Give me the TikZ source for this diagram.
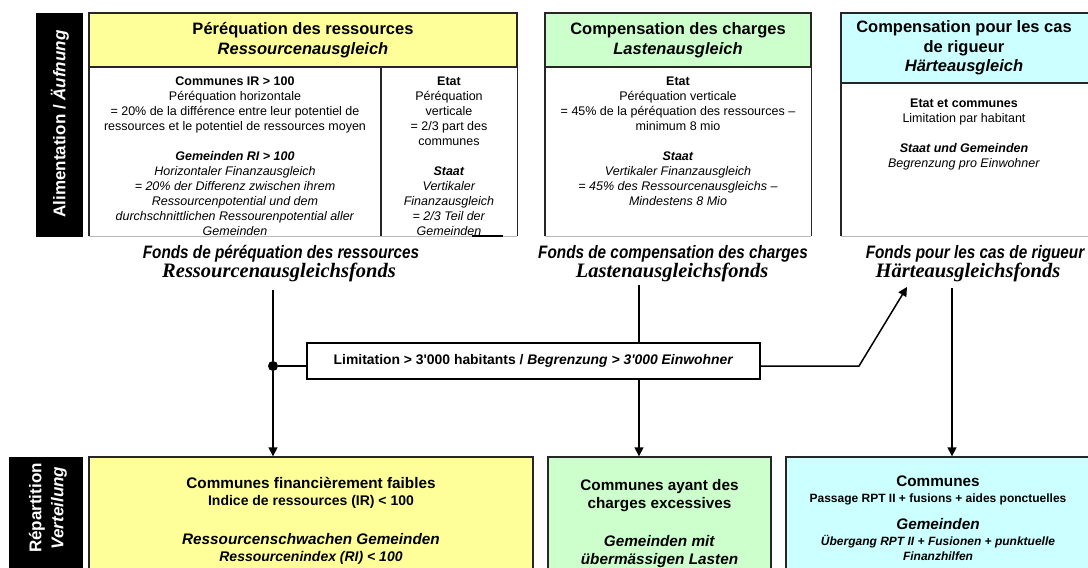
\documentclass[tikz,border=0pt]{standalone}
\usepackage{fontspec}
\setmainfont{Liberation Sans}
\newfontfamily\narrowfont[FakeStretch=0.85]{Liberation Sans}
\newfontfamily\serifbi{Liberation Serif}
\usetikzlibrary{arrows.meta,calc}
\definecolor{yel}{HTML}{FFFF99}
\definecolor{gre}{HTML}{CCFFCC}
\definecolor{cya}{HTML}{CCFFFF}
\definecolor{bordc}{HTML}{262626}
\definecolor{lgray}{HTML}{BBBBBB}
\newcommand{\tstrut}{\rule{0pt}{1em}}
\begin{document}
\begin{tikzpicture}[x=1pt,y=-1pt,
  bord/.style={draw=bordc, line width=1.4pt},
  hdr/.style={bord, inner sep=0pt, align=center, font=\fontsize{16.5}{19.5}\selectfont\bfseries},
  plainbox/.style={inner sep=0pt, draw=none},
  bodytxt/.style={inner sep=0pt, align=center, anchor=north, font=\fontsize{12.5}{15}\selectfont},
  fondsA/.style={inner sep=0pt, anchor=base, font=\narrowfont\fontsize{18}{20}\selectfont\bfseries\itshape},
  fondsB/.style={inner sep=0pt, anchor=base, font=\serifbi\fontsize{20.5}{22}\selectfont\bfseries\itshape},
  bigl/.style={inner sep=0pt, anchor=base, font=\fontsize{15.3}{18}\selectfont\bfseries},
  midl/.style={inner sep=0pt, anchor=base, font=\fontsize{14}{16}\selectfont\bfseries},
  smll/.style={inner sep=0pt, anchor=base, font=\fontsize{12}{14}\selectfont\bfseries},
  sidebar/.style={fill=black, draw=none, inner sep=0pt},
  sidetxt/.style={text=white, rotate=90, inner sep=0pt, align=center, font=\fontsize{17}{22}\selectfont\bfseries},
  conn/.style={draw=black, line width=1.5pt},
  arr/.style={conn, -{Triangle[length=9pt,width=9pt]}},
  graybot/.style={draw=lgray, line width=1pt}
]
\useasboundingbox (0,0) rectangle (1088,568);

% ---------- side bars ----------
\node[sidebar, minimum width=47pt, minimum height=224pt] (alimBar) at (59.5,125) {};
\node[sidetxt] (alimTxt) at (60,124) {Alimentation / \textit{Äufnung}};
\node[sidebar, minimum width=74pt, minimum height=123pt] (repBar) at (46,518.5) {};
\node[sidetxt] (repTxt) at (48,508) {Répartition\\\textit{Verteilung}};

% ---------- top boxes : headers ----------
\node[hdr, fill=yel, minimum width=428pt, minimum height=54pt] (resH) at (303,40)
  {Péréquation des ressources\\\textit{Ressourcenausgleich}};
\node[hdr, fill=gre, minimum width=266pt, minimum height=54pt] (chaH) at (678,40)
  {Compensation des charges\\\textit{Lastenausgleich}};
\node[hdr, fill=cya, minimum width=254pt, minimum height=70pt] (rigH) at (968,48) {};
\node[inner sep=0pt, align=center, font=\fontsize{16.5}{19.5}\selectfont\bfseries] (rigHt) at (964,48)
  {Compensation pour les cas\\de rigueur\\\textit{Härteausgleich}};

% ---------- top boxes : bodies ----------
\node[plainbox, minimum width=428pt, minimum height=169pt] (resB) at (303,151.5) {};
\node[plainbox, minimum width=266pt, minimum height=169pt] (chaB) at (678,151.5) {};
\node[plainbox, minimum width=254pt, minimum height=153pt] (rigB) at (968,159.5) {};
\foreach \b in {resB,chaB,rigB}{
  \draw[graybot] (\b.south west) -- (\b.south east);
  \draw[bord] (\b.north west) -- (\b.south west);
  \draw[bord] (\b.north east) -- (\b.south east);
}
\coordinate (divTop) at (381,67);
\coordinate (divBot) at (381,236);
\draw[bord] (divTop) -- (divBot);
\coordinate (artA) at (472,236);
\coordinate (artB) at (503,236);
\draw[black, line width=2pt] (artA) -- (artB);

\node[bodytxt] (resL) at (235,72.6) {\tstrut\textbf{Communes IR > 100}\\
  Péréquation horizontale\\
  = 20\% de la différence entre leur potentiel de\\
  ressources et le potentiel de ressources moyen\\[15pt]
  \textbf{\textit{Gemeinden RI > 100}}\\
  \textit{Horizontaler Finanzausgleich}\\
  \textit{= 20\% der Differenz zwischen ihrem}\\
  \textit{Ressourcenpotential und dem}\\
  \textit{durchschnittlichen Ressourenpotential aller}\\
  \textit{Gemeinden}};
\node[bodytxt] (resR) at (449,72.6) {\tstrut\textbf{Etat}\\
  Péréquation\\
  verticale\\
  = 2/3 part des\\
  communes\\[15pt]
  \textbf{\textit{Staat}}\\
  \textit{Vertikaler}\\
  \textit{Finanzausgleich}\\
  \textit{= 2/3 Teil der}\\
  \textit{Gemeinden}};
\node[bodytxt] (chaT) at (678,72.6) {\tstrut\textbf{Etat}\\
  Péréquation verticale\\
  = 45\% de la péréquation des ressources –\\
  minimum 8 mio\\[15pt]
  \textbf{\textit{Staat}}\\
  \textit{Vertikaler Finanzausgleich}\\
  \textit{= 45\% des Ressourcenausgleichs –}\\
  \textit{Mindestens 8 Mio}};
\node[bodytxt] (rigT) at (964,94.6) {\tstrut\textbf{Etat et communes}\\
  Limitation par habitant\\[15pt]
  \textbf{\textit{Staat und Gemeinden}}\\
  \textit{Begrenzung pro Einwohner}};

% ---------- funds ----------
\node[fondsA] (fR1) at (281,258) {Fonds de péréquation des ressources};
\node[fondsB] (fR2) at (279,277) {Ressourcenausgleichsfonds};
\node[fondsA] (fL1) at (673,258) {Fonds de compensation des charges};
\node[fondsB] (fL2) at (672,277) {Lastenausgleichsfonds};
\node[fondsA] (fH1) at (975,258) {Fonds pour les cas de rigueur};
\node[fondsB] (fH2) at (968,277) {Härteausgleichsfonds};

% ---------- bottom boxes ----------
\node[bord, fill=yel, minimum width=444pt, minimum height=123pt, inner sep=0pt] (yelB) at (311,518.5) {};
\node[bord, fill=gre, minimum width=223pt, minimum height=123pt, inner sep=0pt] (greB) at (659.5,518.5) {};
\node[bord, fill=cya, minimum width=309pt, minimum height=123pt, inner sep=0pt] (cyaB) at (940.5,518.5) {};

\node[bigl] (y1) at (311,488) {Communes financièrement faibles};
\node[midl] (y2) at (311,505.6) {Indice de ressources (IR) < 100};
\node[bigl] (y3) at (311,544) {\textit{Ressourcenschwachen Gemeinden}};
\node[midl] (y4) at (311,561.6) {\textit{Ressourcenindex (RI) < 100}};

\node[bigl] (g1) at (659.5,490) {Communes ayant des};
\node[bigl] (g2) at (659.5,508) {charges excessives};
\node[bigl] (g3) at (659.5,546) {\textit{Gemeinden mit}};
\node[bigl] (g4) at (659.5,564) {\textit{übermässigen Lasten}};

\node[bigl] (c1) at (938,486) {Communes};
\node[smll] (c2) at (938,502) {Passage RPT II + fusions + aides ponctuelles};
\node[bigl] (c3) at (938,529) {\textit{Gemeinden}};
\node[smll] (c4) at (938,545) {\textit{Übergang RPT II + Fusionen + punktuelle}};
\node[smll] (c5) at (938,560) {\textit{Finanzhilfen}};

% ---------- limitation ----------
\node[draw=black, line width=1.6pt, fill=white, minimum width=453pt, minimum height=36pt, inner sep=0pt,
  font=\fontsize{13.9}{16}\selectfont\bfseries] (limit) at (533.5,361)
  {Limitation > 3\textquotesingle 000 habitants / \textit{Begrenzung > 3\textquotesingle 000 Einwohner}};

% ---------- connectors ----------
\coordinate (fRout) at (273,290);
\coordinate (fLout) at (639,285);
\coordinate (fHout) at (952,288);
\coordinate (elbow) at (859,366);
\coordinate (fHin) at (907,287);
\node[circle, fill=black, minimum size=10pt, inner sep=0pt] (dot) at (273,366) {};

\draw[conn] (fRout) -- (dot);
\draw[arr] (dot) -- (dot |- yelB.north);
\draw[conn] (dot) -- (dot -| limit.west);
\draw[conn] (fLout) -- (fLout |- limit.north);
\draw[arr] (fLout |- limit.south) -- (fLout |- greB.north);
\draw[arr] (fHout) -- (fHout |- cyaB.north);
\draw[arr] (limit.east |- elbow) -- (elbow) -- (fHin);
\end{tikzpicture}
\end{document}
